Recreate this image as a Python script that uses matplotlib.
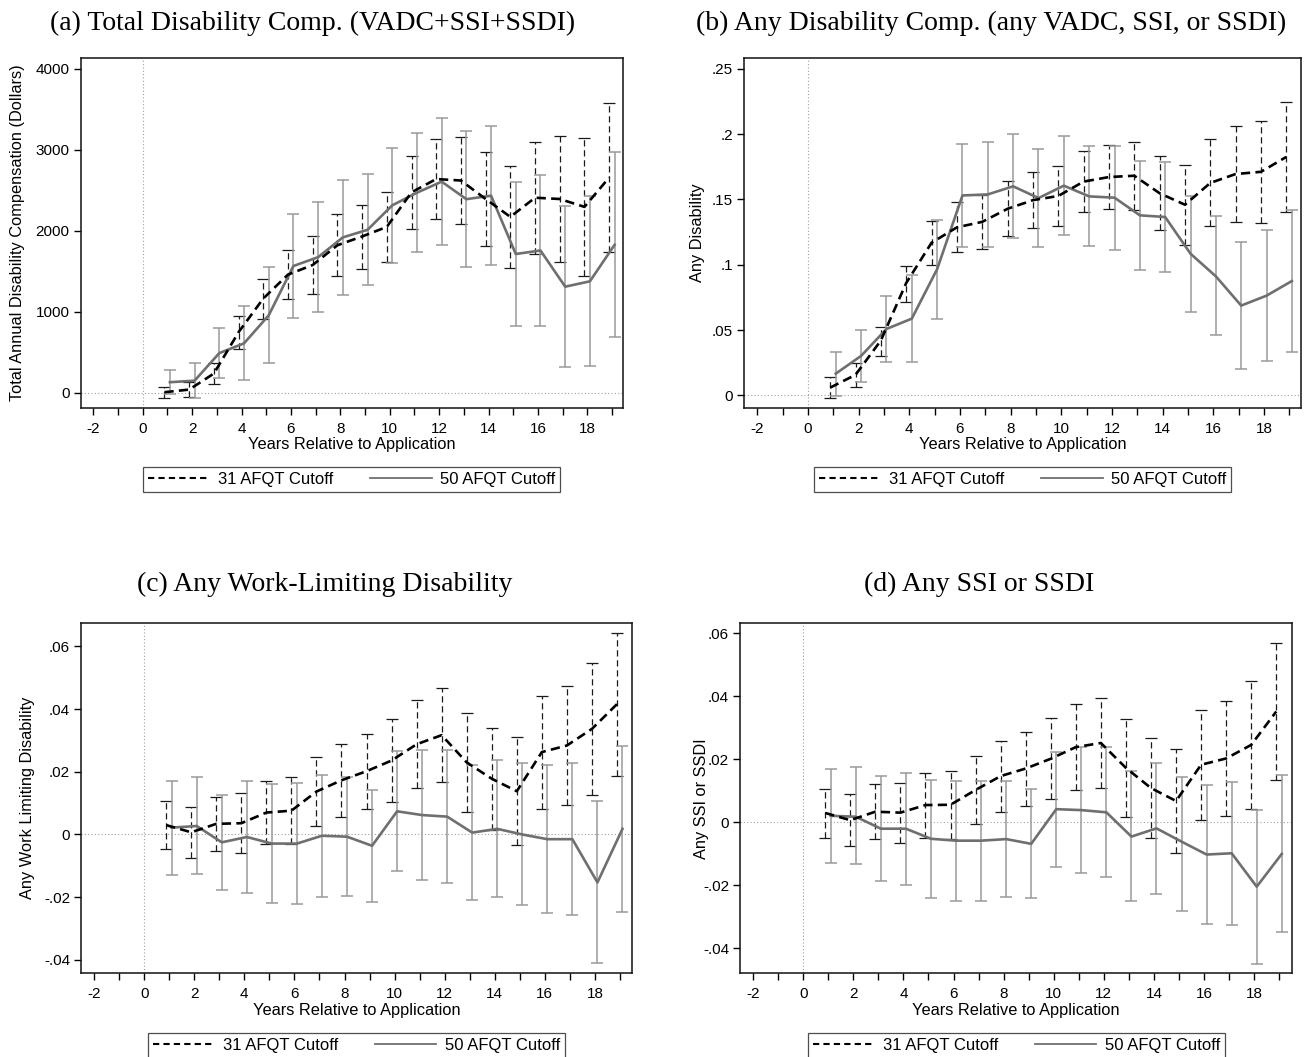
import numpy as np
import matplotlib
matplotlib.use("Agg")
import matplotlib.pyplot as plt
from matplotlib.lines import Line2D
from matplotlib.ticker import FixedLocator

plt.rcParams['font.family'] = ['Liberation Sans', 'DejaVu Sans']
plt.rcParams['axes.unicode_minus'] = False

years = np.arange(1, 20)

# Panel (a): Total Disability Comp. (dollars)
a31 = [10, 42, 240, 750, 1165, 1460, 1578, 1822, 1930, 2048, 2475, 2638, 2620, 2392, 2172, 2408, 2392, 2295, 2657]
a31_lo = [-58, -50, 105, 545, 915, 1160, 1215, 1440, 1535, 1615, 2020, 2145, 2084, 1815, 1541, 1718, 1619, 1447, 1734]
a31_hi = [80, 134, 370, 955, 1410, 1760, 1938, 2203, 2322, 2478, 2926, 3132, 3157, 2972, 2803, 3099, 3165, 3140, 3580]
a50 = [133, 152, 492, 612, 958, 1566, 1675, 1919, 2012, 2314, 2470, 2606, 2390, 2433, 1714, 1757, 1311, 1377, 1827]
a50_lo = [-15, -60, 182, 158, 368, 929, 995, 1212, 1328, 1603, 1734, 1821, 1554, 1578, 822, 830, 316, 329, 686]
a50_hi = [284, 368, 806, 1068, 1552, 2203, 2355, 2626, 2696, 3025, 3206, 3391, 3226, 3288, 2606, 2684, 2306, 2425, 2968]

# Panel (b): Any Disability Comp.
b31 = [.0059, .0157, .042, .086, .1168, .1286, .1328, .1428, .1494, .1526, .1636, .1671, .1681, .1547, .1459, .1626, .1694, .1711, .1825]
b31_lo = [-.002, .0067, .0304, .0712, .1, .1094, .112, .1217, .1281, .1298, .14, .1423, .1421, .1265, .1153, .1293, .1329, .1319, .1403]
b31_hi = [.0138, .0247, .0522, .0989, .1335, .1477, .153, .1638, .1707, .1753, .1872, .192, .1941, .1829, .1765, .1959, .2059, .2102, .2247]
b50 = [.0166, .0302, .0508, .0587, .0966, .153, .1538, .16, .151, .1605, .1523, .1513, .1378, .1365, .1084, .0911, .0687, .0763, .0875]
b50_lo = [-.0008, .01, .0253, .0255, .0587, .1138, .1138, .1204, .1135, .1227, .1143, .1115, .0962, .0944, .0635, .0462, .0202, .0265, .0332]
b50_hi = [.033, .0503, .0763, .092, .1344, .1921, .1939, .2003, .1885, .1982, .1906, .1906, .1791, .1783, .1528, .1372, .1171, .1263, .1418]

# Panel (c): Any Work-Limiting Disability
c31 = [.003, .0007, .0034, .0036, .007, .0076, .0137, .0173, .0202, .0236, .0288, .0317, .023, .0178, .0138, .0263, .0284, .0337, .0416]
c31_lo = [-.0047, -.0074, -.0053, -.006, -.0031, -.0031, .0026, .0057, .0082, .0104, .0148, .0167, .0071, .0015, -.0034, .0082, .0093, .0127, .0188]
c31_hi = [.0107, .0087, .0121, .0132, .0172, .0183, .0247, .0288, .0322, .0368, .0428, .0466, .0389, .0341, .031, .0443, .0474, .0547, .0643]
c50 = [.0022, .0027, -.0025, -.0008, -.0029, -.0029, -.0004, -.0007, -.0036, .0074, .0062, .0057, .0006, .0018, .0, -.0015, -.0015, -.0153, .0018]
c50_lo = [-.0128, -.0127, -.0177, -.0186, -.0219, -.0223, -.0198, -.0196, -.0216, -.0117, -.0144, -.0156, -.021, -.02, -.0226, -.0252, -.0257, -.0411, -.0247]
c50_hi = [.0172, .0182, .0127, .017, .0161, .0165, .0189, .0182, .0143, .0266, .0269, .0271, .0223, .0237, .0227, .0221, .0227, .0106, .0283]

# Panel (d): Any SSI or SSDI
d31 = [.0029, .0006, .0033, .003, .0054, .0055, .0102, .0146, .017, .0201, .0238, .0251, .0172, .0108, .0067, .0182, .0202, .0245, .0351]
d31_lo = [-.0049, -.0076, -.0055, -.0065, -.005, -.0053, -.0007, .0033, .0052, .0073, .0102, .0107, .0017, -.0052, -.0099, .0008, .0018, .0043, .0133]
d31_hi = [.0106, .0088, .012, .0125, .0157, .0162, .021, .0258, .0287, .0329, .0374, .0395, .0326, .0267, .0233, .0356, .0385, .0447, .0569]
d50 = [.002, .0017, -.0021, -.0021, -.0053, -.0059, -.0059, -.0054, -.0069, .0041, .0038, .0031, -.0046, -.002, -.0062, -.0103, -.0099, -.0205, -.0101]
d50_lo = [-.0129, -.0134, -.0187, -.0199, -.024, -.0251, -.0249, -.0237, -.0242, -.0144, -.0161, -.0175, -.0252, -.0228, -.0281, -.0324, -.0326, -.0449, -.035]
d50_hi = [.0169, .0174, .0145, .0156, .0134, .0131, .0129, .0129, .0105, .0223, .0237, .0237, .0161, .0188, .0144, .0119, .0128, .0038, .0148]

titles = ["(a) Total Disability Comp. (VADC+SSI+SSDI)",
          "(b) Any Disability Comp. (any VADC, SSI, or SSDI)",
          "(c) Any Work-Limiting Disability",
          "(d) Any SSI or SSDI"]
ylabels = ["Total Annual Disability Compensation (Dollars)", "Any Disability",
           "Any Work Limiting Disability", "Any SSI or SSDI"]
xlabel = "Years Relative to Application"
legend_labels = ["31 AFQT Cutoff", "50 AFQT Cutoff"]

yticks_a = [0, 1000, 2000, 3000, 4000]
ytick_labels_a = ["0", "1000", "2000", "3000", "4000"]
yticks_b = [0, .05, .1, .15, .2, .25]
ytick_labels_b = ["0", ".05", ".1", ".15", ".2", ".25"]
yticks_cd = [-.04, -.02, 0, .02, .04, .06]
ytick_labels_cd = ["-.04", "-.02", "0", ".02", ".04", ".06"]

W, H = 1305, 1057
fig = plt.figure(figsize=(W / 100, H / 100), dpi=100)

def rect(l, r, t, b):
    return [l / W, 1 - b / H, (r - l) / W, (b - t) / H]

panels = [
    dict(px=(80.7, 623, 58.3, 408), xlim=(-2.51, 19.44), ylim=(-185, 4127),
         data=(a31, a31_lo, a31_hi, a50, a50_lo, a50_hi), yt=yticks_a, ytl=ytick_labels_a, ylab_px=25),
    dict(px=(744.3, 1301, 58.3, 408), xlim=(-2.51, 19.46), ylim=(-0.0097, 0.258),
         data=(b31, b31_lo, b31_hi, b50, b50_lo, b50_hi), yt=yticks_b, ytl=ytick_labels_b, ylab_px=705),
    dict(px=(81.3, 631.5, 623.3, 973.3), xlim=(-2.51, 19.46), ylim=(-0.0443, 0.0674),
         data=(c31, c31_lo, c31_hi, c50, c50_lo, c50_hi), yt=yticks_cd, ytl=ytick_labels_cd, ylab_px=35),
    dict(px=(740.3, 1292.3, 623.3, 973.3), xlim=(-2.51, 19.52), ylim=(-0.048, 0.0631),
         data=(d31, d31_lo, d31_hi, d50, d50_lo, d50_hi), yt=yticks_cd, ytl=ytick_labels_cd, ylab_px=709),
]

title_pos = [(313, 23), (991, 23), (325, 584), (979, 584)]

blk = "#000000"
gry = "#6f6f6f"
gry_ci = "#9a9a9a"

for i, p in enumerate(panels):
    l, r, t, b = p["px"]
    ax = fig.add_axes(rect(l, r, t, b))
    v31, l31, h31, v50, l50, h50 = [np.asarray(d, float) for d in p["data"]]
    x31 = years - 0.12
    x50 = years + 0.1

    ax.axvline(0, color="#a0a0a0", lw=0.8, ls=(0, (1, 2)), zorder=0)
    ax.axhline(0, color="#a0a0a0", lw=0.8, ls=(0, (1, 2)), zorder=0)

    eb1 = ax.errorbar(x31, v31, yerr=[v31 - l31, h31 - v31], fmt="none",
                      ecolor="#1a1a1a", elinewidth=0.9, capsize=4.5, capthick=0.9, zorder=2)
    for lc in eb1[2]:
        lc.set_linestyle((0, (5, 3)))
    ax.errorbar(x50, v50, yerr=[v50 - l50, h50 - v50], fmt="none",
                ecolor=gry_ci, elinewidth=1.1, capsize=4.5, capthick=1.1, zorder=2)

    ax.plot(x31, v31, color=blk, lw=1.9, dashes=(3.5, 2.0), zorder=4)
    ax.plot(x50, v50, color=gry, lw=1.9, zorder=3)

    ax.set_xlim(*p["xlim"])
    ax.set_ylim(*p["ylim"])
    ax.xaxis.set_major_locator(FixedLocator(np.arange(-2, 19, 2)))
    ax.xaxis.set_minor_locator(FixedLocator(np.arange(-1, 20, 2)))
    ax.set_yticks(p["yt"])
    ax.set_yticklabels(p["ytl"])
    ax.tick_params(axis="both", which="both", direction="out", length=5, width=1.0,
                   labelsize=11)
    ax.tick_params(axis="x", pad=5)
    ax.tick_params(axis="y", pad=3)
    for s in ax.spines.values():
        s.set_linewidth(1.1)
        s.set_color("#111111")
    ax.set_xlabel(xlabel, fontsize=11.8, labelpad=1)
    ax.set_ylabel(ylabels[i], fontsize=11.8)
    ax.yaxis.set_label_coords((p["ylab_px"] - l) / (r - l), 0.5)

    handles = [Line2D([], [], color=blk, lw=1.5, dashes=(3, 2)),
               Line2D([], [], color=gry, lw=1.3)]
    leg = ax.legend(handles, legend_labels, ncol=2, loc="center",
                    bbox_to_anchor=(0.5, -0.205), frameon=True, fancybox=False,
                    edgecolor="#222222", fontsize=12, handlelength=3.7,
                    columnspacing=2.2, handletextpad=0.5, borderpad=0.3,
                    borderaxespad=0)
    leg.get_frame().set_linewidth(0.9)

    tx, ty = title_pos[i]
    fig.text(tx / W, 1 - ty / H, titles[i], ha="center", va="center",
             fontsize=20, family=["Liberation Serif", "DejaVu Serif"])

fig.savefig("out.png", dpi=100)
